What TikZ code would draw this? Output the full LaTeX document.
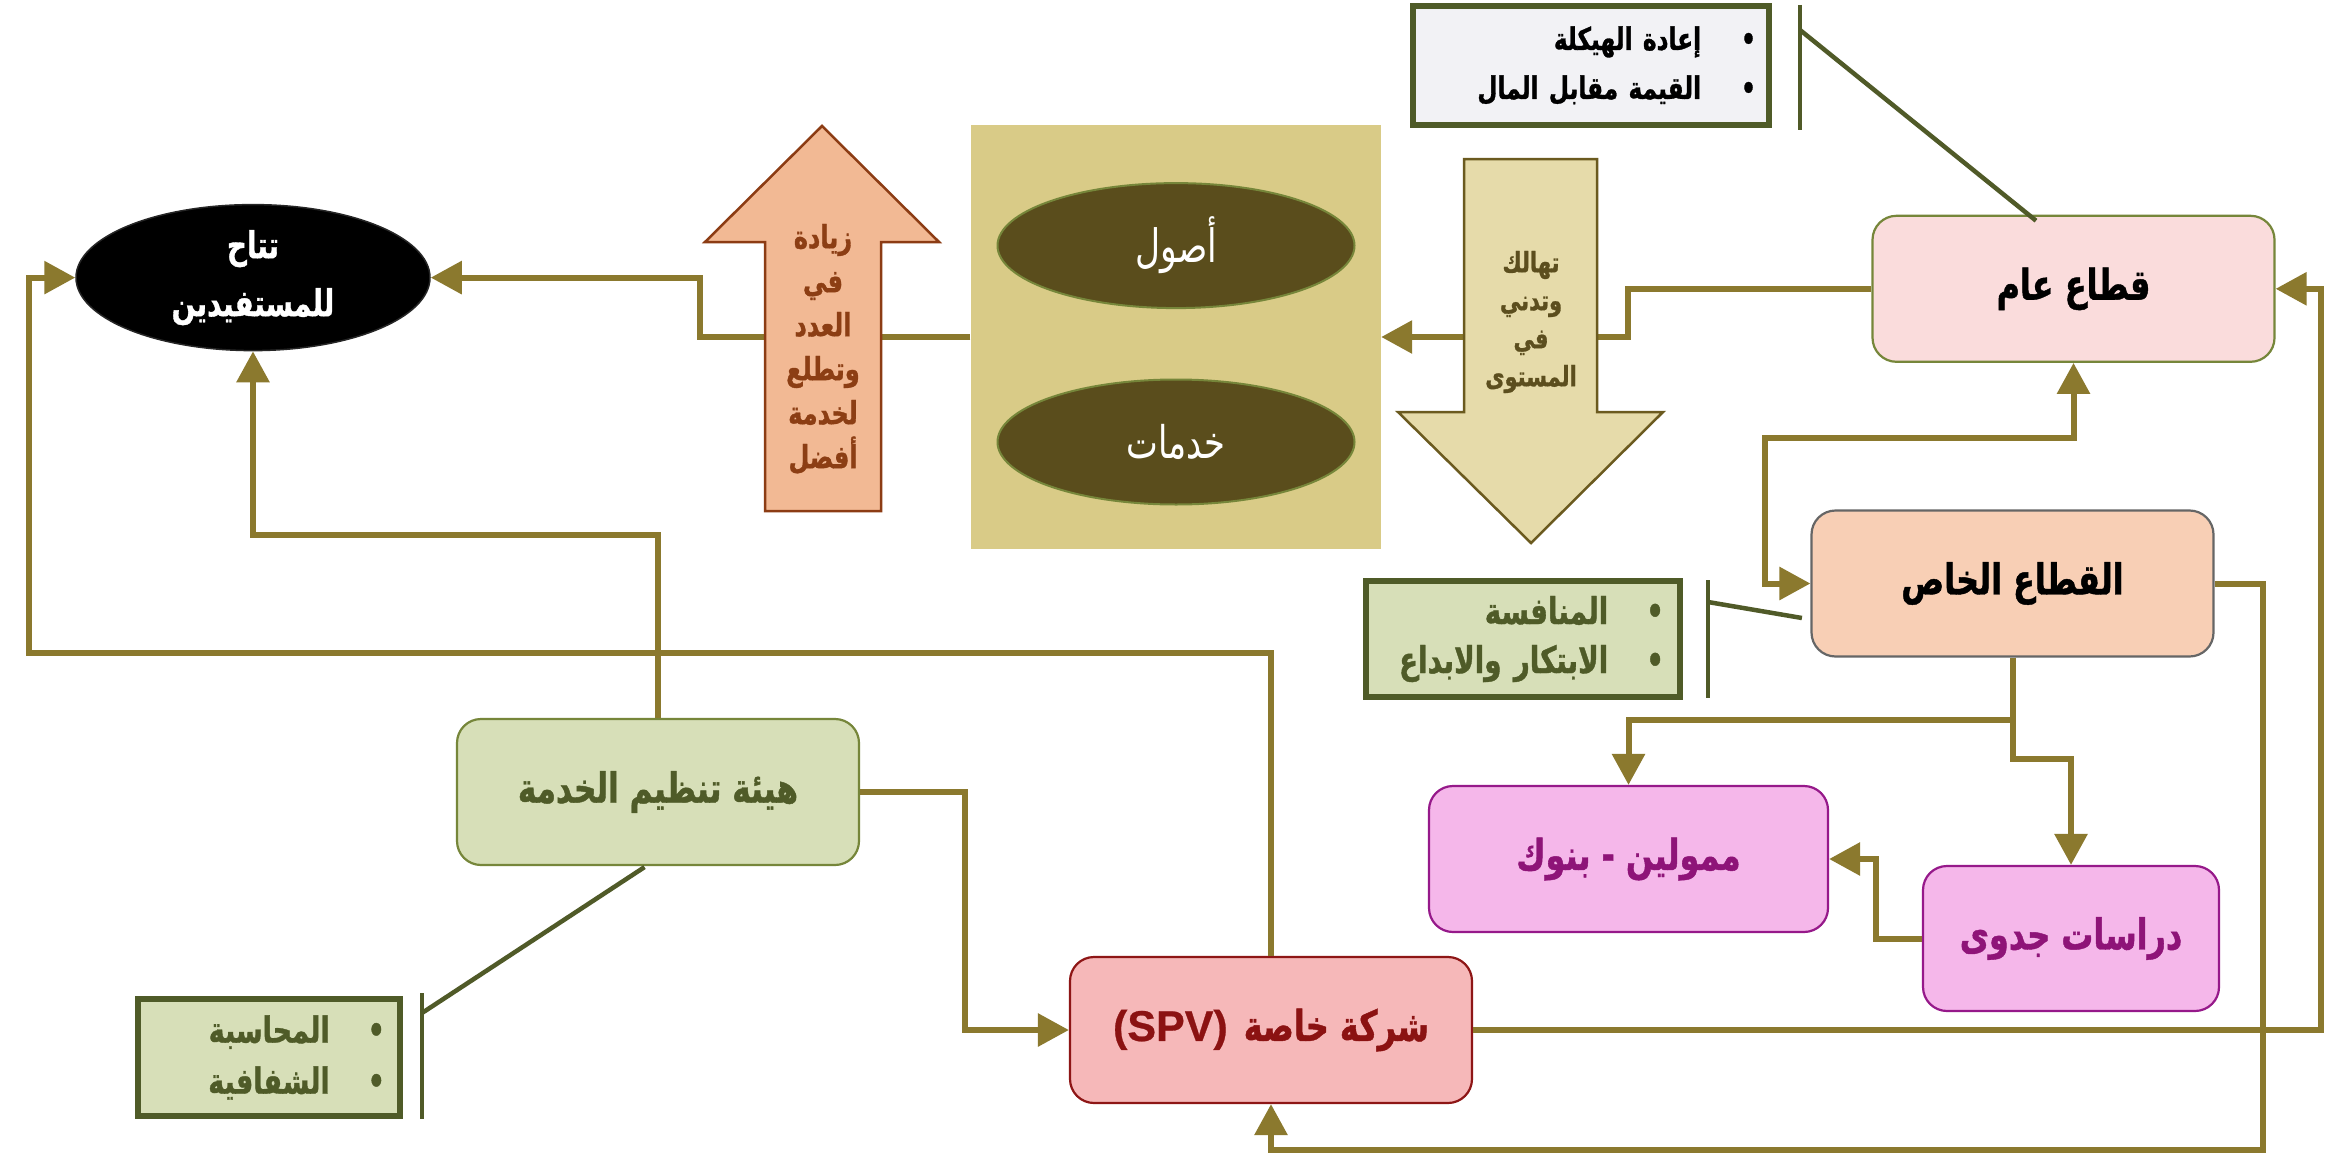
\documentclass[tikz,border=0pt]{standalone}
\usepackage{fontspec}
\setmainfont{DejaVu Sans}
\newfontfamily\arabicfont[Script=Arabic,FakeStretch=0.75,BoldFeatures={FakeBold=1}]{DejaVu Sans}
\newfontfamily\latinbold[BoldFeatures={FakeBold=0.6}]{Liberation Sans}
\TeXXeTstate=1
\usetikzlibrary{arrows.meta,shapes.geometric,calc}
\newcommand\RTLtxt[1]{\beginR #1\endR}
\definecolor{conncol}{RGB}{139,121,46}
\definecolor{annocol}{RGB}{80,90,40}
\definecolor{upfill}{RGB}{242,185,148}
\definecolor{updraw}{RGB}{140,60,20}
\definecolor{uptext}{RGB}{140,62,20}
\definecolor{beigefill}{RGB}{217,203,135}
\definecolor{olivefill}{RGB}{90,77,28}
\definecolor{olivedraw}{RGB}{118,134,58}
\definecolor{dnfill}{RGB}{230,219,170}
\definecolor{dndraw}{RGB}{107,90,31}
\definecolor{dntext}{RGB}{92,78,30}
\definecolor{pubfill}{RGB}{250,220,220}
\definecolor{greyfill}{RGB}{242,242,245}
\definecolor{darkolive}{RGB}{79,91,40}
\definecolor{privfill}{RGB}{248,207,181}
\definecolor{privdraw}{RGB}{102,102,102}
\definecolor{greenfill}{RGB}{215,223,184}
\definecolor{pinkfill}{RGB}{245,183,234}
\definecolor{pinkdraw}{RGB}{150,25,138}
\definecolor{pinktext}{RGB}{142,20,120}
\definecolor{spvfill}{RGB}{246,184,185}
\definecolor{spvdraw}{RGB}{142,22,22}
\definecolor{spvtext}{RGB}{139,18,18}
\begin{document}
\begin{tikzpicture}[x=1pt,y=-1pt,
  conn/.style={draw=conncol, line width=6pt},
  arr/.style={conn, -{Triangle[length=31pt,width=32pt]}},
  anno/.style={draw=annocol, line width=4.5pt},
  mainbox/.style={rectangle, rounded corners=24pt, minimum width=402pt, minimum height=146pt, inner sep=0pt, line width=2.2pt,
     font=\arabicfont\bfseries\fontsize{42.5}{50}\selectfont},
  listbox/.style={rectangle, draw=darkolive, line width=6pt, inner xsep=13pt, inner ysep=0pt, align=right},
]
\useasboundingbox (0,0) rectangle (2334,1156);
\fill[white] (0,0) rectangle (2334,1156);

% ---------- nodes ----------
\node[ellipse, fill=black, draw=black!85, line width=1.5pt, minimum width=354pt, minimum height=146pt, inner sep=0pt,
      text=white, align=center, font=\arabicfont\bfseries\fontsize{37}{58}\selectfont] (ell) at (253,277.6)
      {\RTLtxt{تتاح}\\\RTLtxt{للمستفيدين}};

\node[rectangle, fill=beigefill, minimum width=410.5pt, minimum height=424pt, inner sep=0pt] (beige) at (1175.75,337) {};
\node[ellipse, fill=olivefill, draw=olivedraw, line width=2pt, minimum width=357pt, minimum height=125pt, inner sep=0pt,
      text=white, font=\arabicfont\fontsize{46}{52}\selectfont] (ast) at (1176,245.6) {\RTLtxt{أصول}};
\node[ellipse, fill=olivefill, draw=olivedraw, line width=2pt, minimum width=357pt, minimum height=125pt, inner sep=0pt,
      text=white, font=\arabicfont\fontsize{45}{52}\selectfont] (srv) at (1176,442) {\RTLtxt{خدمات}};

\node[mainbox, fill=pubfill, draw=olivedraw, text=black] (pub) at (2073.5,288.8) {\RTLtxt{قطاع عام}};
\node[mainbox, fill=privfill, draw=privdraw, text=black] (priv) at (2012.5,583.5) {\RTLtxt{القطاع الخاص}};
\node[mainbox, fill=pinkfill, draw=pinkdraw, text=pinktext, minimum width=399pt] (moul) at (1628.5,859) {\RTLtxt{ممولين - بنوك}};
\node[mainbox, fill=pinkfill, draw=pinkdraw, text=pinktext, minimum width=296pt, minimum height=145pt] (dir) at (2071,938.5) {\RTLtxt{دراسات جدوى}};
\node[mainbox, fill=greenfill, draw=olivedraw, text=darkolive, font=\arabicfont\bfseries\fontsize{41.5}{50}\selectfont] (hub) at (658,792) {\RTLtxt{هيئة تنظيم الخدمة}};
\node[mainbox, fill=spvfill, draw=spvdraw, text=spvtext] (spv) at (1271,1030) {{\latinbold\bfseries\fontsize{43}{50}\selectfont (SPV)}\hspace{16pt}\RTLtxt{شركة خاصة}};

\node[listbox, fill=greyfill, text=black, text width=330pt, minimum height=119pt,
      font=\arabicfont\bfseries\fontsize{31}{49}\selectfont] (gbox) at (1591,65.5)
  {\RTLtxt{•\hspace{40pt}إعادة الهيكلة}\\\RTLtxt{•\hspace{40pt}القيمة مقابل المال}};
\node[listbox, fill=greenfill, text=darkolive, text width=282pt, minimum height=116pt, inner xsep=16pt,
      font=\arabicfont\bfseries\fontsize{37}{49}\selectfont] (cbox) at (1523,639)
  {\RTLtxt{•\hspace{38pt}المنافسة}\\\RTLtxt{•\hspace{38pt}الابتكار والابداع}};
\node[listbox, fill=greenfill, text=darkolive, text width=232pt, minimum height=117pt, inner xsep=15pt,
      font=\arabicfont\bfseries\fontsize{36}{51}\selectfont] (abox) at (269,1057.5)
  {\RTLtxt{•\hspace{38pt}المحاسبة}\\\RTLtxt{•\hspace{38pt}الشفافية}};

% ---------- connectors ----------
\draw[arr] (beige.west) -- (700,337) |- (ell.east);
\draw[arr] (pub.west) -- (1628,288.8) |- (beige.east);
\draw[conn, {Triangle[length=31pt,width=32pt]}-{Triangle[length=31pt,width=32pt]}]
   (pub.south) -- (2073.5,437.6) -- (1765,437.6) |- (priv.west);
\draw[arr] (priv.south) -- (2012.5,720) -| (moul.north);
\draw[arr] (priv.south) -- (2012.5,759) -| (dir.north);
\draw[arr] (dir.west) -- (1875.5,938.5) |- (moul.east);
\draw[arr] (priv.east) -- (2262.5,583.5) -- (2262.5,1150) -| (spv.south);
\draw[arr] (spv.east) -- (2321,1030) |- (pub.east);
\draw[arr] (spv.north) |- (29,653) |- (ell.west);
\draw[arr] (hub.north) -- (658,535) -| (ell.south);
\draw[arr] (hub.east) -- (965,792) |- (spv.west);

% ---------- annotation brackets ----------
\coordinate (gbt) at (1800,5);
\coordinate (gbb) at (1800,130);
\coordinate (gbj) at (1800,30);
\draw[anno] (gbt) -- (gbb);
\draw[anno] (gbj) -- ($(pub.north)+(-37.5,6)$);
\coordinate (cbt) at (1708,580);
\coordinate (cbb) at (1708,698);
\coordinate (cbj) at (1708,602);
\draw[anno] (cbt) -- (cbb);
\draw[anno] (cbj) -- ($(priv.west)+(-8.5,34.5)$);
\coordinate (abt) at (422,993);
\coordinate (abb) at (422,1119);
\coordinate (abj) at (422,1013);
\draw[anno] (abt) -- (abb);
\draw[anno] (abj) -- ($(hub.south)+(-13.5,1)$);

% ---------- block arrows ----------
\draw[fill=upfill, draw=updraw, line width=2.5pt, line join=miter]
  (765,511) -- (765,242) -- (705,242) -- (822,126) -- (939,242) -- (881,242) -- (881,511) -- cycle;
\node[text=uptext, align=center, font=\arabicfont\bfseries\fontsize{32}{44}\selectfont] (uptxt) at (823,349)
  {\RTLtxt{زيادة}\\\RTLtxt{في}\\\RTLtxt{العدد}\\\RTLtxt{وتطلع}\\\RTLtxt{لخدمة}\\\RTLtxt{أفضل}};
\draw[fill=dnfill, draw=dndraw, line width=2.5pt, line join=miter]
  (1464,159) -- (1597,159) -- (1597,412) -- (1663,412) -- (1531,543) -- (1398,412) -- (1464,412) -- cycle;
\node[text=dntext, align=center, font=\arabicfont\bfseries\fontsize{28}{38}\selectfont] (dntxt) at (1531,322)
  {\RTLtxt{تهالك}\\\RTLtxt{وتدني}\\\RTLtxt{في}\\\RTLtxt{المستوى}};
\end{tikzpicture}
\end{document}
